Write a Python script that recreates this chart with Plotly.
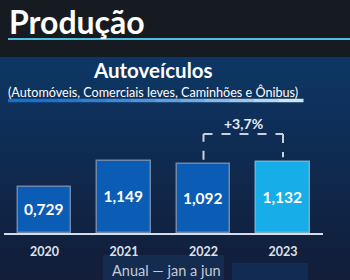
import plotly.graph_objects as go

# ---- data ----
years = ["2020", "2021", "2022", "2023"]
production = [0.729, 1.149, 1.092, 1.132]  # milhões de unidades
value_labels = ["0,729", "1,149", "1,092", "1,132"]
title = "Produção"
chart_title = "Autoveículos"
chart_subtitle = "(Automóveis, Comerciais leves, Caminhões e Ônibus)"
footer = "Anual \u2014 jan a jun"

W, H = 350, 280
L, R, T, B = 4, 27, 105, 47
PW, PH = W - L - R, H - T - B

def px(x):
    return (x - L) / PW

def py(y):
    return (H - B - y) / PH

FONT = "Lato"
x_idx = list(range(len(years)))
bar_colors = ["#0a5cb5", "#0a5cb5", "#0a5cb5", "#17ade8"]
line_colors = ["#6c88ab", "#6c88ab", "#6c88ab", "#72aed0"]

fig = go.Figure()
fig.add_trace(go.Bar(
    x=x_idx, y=production, width=0.667,
    marker=dict(color=bar_colors, line=dict(color=line_colors, width=1.5)),
    text=value_labels, textposition="inside", insidetextanchor="middle",
    textangle=0,
    textfont=dict(family=FONT, size=15.5, color="white", weight="bold"),
    hoverinfo="skip",
))

shapes = []
# navy background gradient stripes
top_c = (14, 54, 100)
bot_c = (18, 30, 58)
n = 14
y0p, y1p = 57, 280
for i in range(n):
    t = i / (n - 1)
    c = tuple(int(top_c[k] + (bot_c[k] - top_c[k]) * t) for k in range(3))
    ya = y0p + (y1p - y0p) * i / n
    yb = y0p + (y1p - y0p) * (i + 1) / n + 1
    shapes.append(dict(type="rect", xref="paper", yref="paper", layer="below",
                       x0=px(0), x1=px(W), y0=py(ya), y1=py(yb),
                       fillcolor="rgb(%d,%d,%d)" % c, line=dict(width=0)))
# faint boxes near footer
shapes.append(dict(type="rect", xref="paper", yref="paper", layer="below",
                   x0=px(103), x1=px(224), y0=py(255), y1=py(280),
                   fillcolor="rgba(30,70,120,0.35)", line=dict(width=0)))
shapes.append(dict(type="rect", xref="paper", yref="paper", layer="below",
                   x0=px(232), x1=px(308), y0=py(263), y1=py(280),
                   fillcolor="rgba(20,60,115,0.45)", line=dict(width=0)))
# cyan line under main title
shapes.append(dict(type="line", xref="paper", yref="paper",
                   x0=px(8), x1=px(W), y0=py(39), y1=py(39),
                   line=dict(color="#4cc0dc", width=2)))
# gradient line under subtitle
seg = 12
for i in range(seg):
    t = i / (seg - 1)
    c0, c1 = (25, 110, 200), (205, 230, 246)
    c = tuple(int(c0[k] + (c1[k] - c0[k]) * t ** 1.5) for k in range(3))
    xa = 8 + (303 - 8) * i / seg
    xb = 8 + (303 - 8) * (i + 1) / seg + 0.5
    shapes.append(dict(type="line", xref="paper", yref="paper",
                       x0=px(xa), x1=px(xb), y0=py(100.5), y1=py(100.5),
                       line=dict(color="rgb(%d,%d,%d)" % c, width=3.5)))
# dashed growth bracket between 2022 and 2023
a, b = 2, 3
gap, top = 0.07, 1.571
dash = dict(color="#c9d1dc", width=2, dash="dash")
shapes.append(dict(type="line", xref="x", yref="y", x0=a, x1=a,
                   y0=production[a] + gap, y1=top, line=dash))
shapes.append(dict(type="line", xref="x", yref="y", x0=a, x1=b,
                   y0=top, y1=top, line=dash))
shapes.append(dict(type="line", xref="x", yref="y", x0=b, x1=b,
                   y0=top, y1=production[b] + gap, line=dash))

growth = (production[b] / production[a] - 1) * 100
growth_txt = ("+%.1f%%" % growth).replace(".", ",")

annotations = [
    dict(text=title, xref="paper", yref="paper", x=px(7), y=py(21),
         xanchor="left", yanchor="middle", showarrow=False,
         font=dict(family=FONT, size=32, color="white", weight="bold")),
    dict(text=chart_title, xref="paper", yref="paper", x=px(153), y=py(82.5),
         xanchor="center", yanchor="bottom", showarrow=False, borderpad=0,
         font=dict(family=FONT, size=20.5, color="white", weight="bold")),
    dict(text=chart_subtitle, xref="paper", yref="paper", x=px(153), y=py(82.5),
         xanchor="center", yanchor="top", showarrow=False, borderpad=0,
         font=dict(family=FONT, size=12.6, color="white")),
    dict(text=growth_txt, xref="x", yref="y", x=(a + b) / 2, y=1.74,
         xanchor="center", yanchor="middle", showarrow=False,
         font=dict(family=FONT, size=14, color="#e6ebf2", weight="bold")),
    dict(text=footer, xref="paper", yref="paper", x=px(166), y=py(270),
         xanchor="center", yanchor="middle", showarrow=False,
         font=dict(family=FONT, size=14.5, color="#c4ccd8")),
]

fig.update_layout(
    width=W, height=H, margin=dict(l=L, r=R, t=T, b=B),
    paper_bgcolor="#161b22", plot_bgcolor="rgba(0,0,0,0)",
    showlegend=False, shapes=shapes, annotations=annotations,
    bargap=0,
    xaxis=dict(range=[(4 - 44.5) / 79.5, (323 - 44.5) / 79.5],
               tickvals=x_idx, ticktext=years, showgrid=False, zeroline=False,
               showline=True, linecolor="#d6dde6", linewidth=1.5,
               ticks="", ticklabelstandoff=6,
               tickfont=dict(family=FONT, size=12.5, color="#dde2ea", weight="bold"),
               fixedrange=True),
    yaxis=dict(range=[0, PH / 63], visible=False, fixedrange=True),
)

fig.write_html("out.html")
